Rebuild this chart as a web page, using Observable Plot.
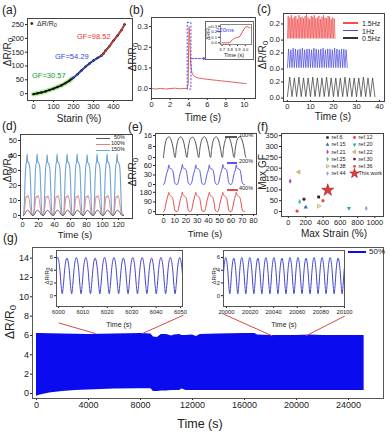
<!DOCTYPE html>
<html><head><meta charset="utf-8">
<script src="https://cdn.jsdelivr.net/npm/d3@7"></script>
<script src="https://cdn.jsdelivr.net/npm/@observablehq/plot@0.6"></script>
<style>
body{margin:0;background:#fff;}
#root{position:relative;width:391px;height:433px;overflow:hidden;font-family:"Liberation Sans",Arial,sans-serif;color:#222;background:#fff}
.t{position:absolute;white-space:nowrap;line-height:1}
svg{overflow:visible}
</style></head><body><div id="root"></div>
<script>
// ---------- DATA ----------
// (a) strain response
const strainA=[0,20,40,60,80,100,120,140,160,180,190,200,220,240,260,280,300,320,340,350,360,380,400,420,440,455];
const drA=[-2,1,4,8,13,18,24,30,38,47,53,58,70,84,97,109,120,129,138,145,155,172,192,210,230,250];
const segBreaks=[190,340];
const gfLabels=["GF=30.57","GF=54.29","GF=98.52"];
// (b) response time
const tB=[0,0.5,1,1.5,2,2.5,3,3.5,3.8,3.95,4.0,4.05,4.1,4.15,4.2,4.3,4.4,4.6,4.8,5,5.5,6,7,8,9,10,10.2];
const vB=[0,-0.002,0.001,-0.002,0,0.002,-0.001,0.001,0,0.02,0.2,0.3,0.27,0.2,0.14,0.09,0.07,0.06,0.055,0.052,0.048,0.045,0.04,0.035,0.03,0.025,0.024];
const winB=[3.9,4.3];
const tBi=[3.70,3.75,3.80,3.82,3.84,3.86,3.88,3.90,3.92,3.94,3.96,3.98,4.00,4.03,4.06];
const vBi=[0,0,0,0.04,0.06,0.08,0.09,0.1,0.1,0.14,0.19,0.24,0.28,0.29,0.27];
// (c) frequency
const freqC=["1.5Hz","1Hz","0.5Hz"];
const phC=[[0,0.333,0.667],[0,0.5,1],[0,1,2]];
const tmplC=[0.02,0.28,0.02];
const peaksC=[
 [0.30,0.28,0.31,0.27,0.29,0.30,0.26,0.31,0.28,0.29,0.27,0.30,0.32,0.28,0.26,0.30,0.29,0.31,0.27,0.28,0.30,0.26,0.29,0.31,0.28,0.27,0.30,0.29,0.26,0.28,0.27],
 [0.25,0.24,0.26,0.25,0.24,0.25,0.26,0.24,0.25,0.25,0.24,0.26,0.25,0.24,0.25,0.26,0.24,0.25,0.25,0.24,0.26,0.25,0.24,0.25,0.25,0.24],
 [0.26,0.25,0.26,0.25,0.25,0.26,0.25,0.25,0.26,0.25,0.25,0.25,0.26,0.25,0.25,0.25,0.26,0.25,0.25]];
// (d) strain levels
const levD=["50%","100%","150%"];
const phD=[[0,2,3.5,4.5,6,7.5,9,10.5,12.5],[0,1.5,2.5,3.5,4.5,5.5,6.5,7.5,8.5,9.5,10.5,12.5],[0,1,2,3,3.8,4.5,5.2,6.5,8,9,10,11,12.5]];
const vD=[[0,1.5,3,3.5,3.2,2.5,1,0.2,0],[0.5,5,10,13,12,13.5,12,9,5,1.5,0.5,0.5],[0,8,25,34,36,41,36,35,31,18,4,0.5,0]];
const peaksD=[[3.5,3.5,3.4,3.5,3.5,3.5,3.4,3.5,3.5,3.5],[13.5,13.5,13.3,13.5,13.5,13.4,13.5,13.5,13.5,13.4],[41,41,40.5,41,41,41,40.5,41,41,41]];
// (e) strain levels
const levE=["100%","200%","400%"];
const phE=[[0,0.8,2,3.5,5,6.5,7.8,9,9.8,10.5],[0,1,2.5,4,4.8,5.3,6.5,8,9,10,11,12],[0,1,2.5,4,4.8,5.3,6.5,8,9,10,11,12]];
const vE=[[0,6,11.5,14.5,15,13.5,10,5,1,0],[0,5,30,48,62,52,50,46,30,5,1,0],[0,15,90,150,180,155,145,130,80,15,3,0]];
const peaksE=[[15,15,14.8,15,15,14.8,15],[62,63,62,62,63,62],[180,182,180,181,180,180]];
// (f) comparison
const refs=["ref.6","ref.12","ref.15","ref.20","ref.21","ref.22","ref.25","ref.30","ref.38","ref.36","ref.44","This work"];
const strainF=[350,100,200,700,20,120,130,180,350,400,900,455];
const gfF=[67,2,20,15,140,182,45,57,25,50,15,98.5];
// (g) durability envelope
const tG=[0,300,1000,2000,3000,4000,6000,8000,8800,9000,9300,9600,10000,10400,10600,11000,11200,11500,12000,12300,12600,14000,16000,16800,17000,18000,20000,21000,22000,25200];
const upG=[6.2,6.2,6.18,6.15,6.12,6.1,6.15,6.2,6.15,5.85,5.8,6.1,6.1,5.95,6.05,6.1,6.0,6.0,6.05,5.9,6.1,6.15,6.2,6.2,6.05,6.0,6.0,6.05,6.0,6.0];
const loG=[-0.3,-0.15,0.05,0.2,0.3,0.35,0.45,0.5,0.5,0.2,0.2,0.25,0.25,0.3,0.3,0.3,0.45,0.3,0.3,0.3,0.3,0.3,0.3,0.3,0.3,0.3,0.3,0.3,0.3,0.3];
const phG1=[0,0.45,0.95,1.45,1.92,2.4,2.9,3.4,3.85];
const phG2=[0,0.8,1.7,2.6,3.4,4.2,5.1,6.0,6.8];
const vG=[0.3,1.6,4.0,5.5,6.0,5.5,4.0,1.6,0.3];
const peaksG1=[6.0,5.9,6.0,6.0,5.9,6.0,6.0,5.9,6.0,6.0,5.9,6.0,6.0,6.0];
const peaksG2=[6.0,5.9,6.0,6.0,5.9,6.0,6.0,5.9,6.0,6.0,5.9,6.0,6.0,6.0,5.9,6.0];
const linksG=[[1700,7.3,4540,6.2],[11300,8.1,8150,6.2],[14400,8.2,18150,5.95],[23700,8.0,20700,5.95]];

// ---------- HELPERS ----------
const F='"Liberation Sans", Arial, Helvetica, sans-serif';
const root=document.getElementById('root');
const RR='ΔR/R<span style="font-size:80%;position:relative;top:0.25em">0</span>';
function put(n,l,t){n.style.position='absolute';n.style.left=l+'px';n.style.top=t+'px';root.appendChild(n);return n;}
function label(html,x,y,o={}){const d=document.createElement('div');d.className='t';d.innerHTML=html;
 d.style.fontSize=(o.size||10)+'px';d.style.color=o.color||'#222';
 const tx=o.anchor==='start'?'0':o.anchor==='end'?'-100%':'-50%';
 d.style.left=x+'px';d.style.top=y+'px';d.style.transform=`translate(${tx},-50%)`+(o.rot?` rotate(${o.rot}deg)`:'');
 if(o.shadow)d.style.textShadow=o.shadow;root.appendChild(d);return d;}
function box(l,t,w,h,c,bg){const d=document.createElement('div');d.style.cssText=`position:absolute;left:${l}px;top:${t}px;width:${w}px;height:${h}px;border:1px solid ${c||'#444'};box-sizing:border-box;`+(bg?`background:${bg};`:'');root.appendChild(d);return d;}
function legLine(x1,x2,y,c,w){const d=document.createElement('div');d.style.cssText=`position:absolute;left:${x1}px;top:${y-(w||1)/2}px;width:${x2-x1}px;height:${w||1}px;background:${c}`;root.appendChild(d);}
function P(o,fs){return Plot.plot({...o,style:{fontFamily:F,fontSize:(fs||7.5)+'px',color:'#222',background:'transparent',overflow:'visible'}});}
function ax(domain,ticks,fmt,hide){const a={domain,label:null,tickSize:2,tickPadding:1.5};if(ticks)a.ticks=ticks;if(fmt)a.tickFormat=fmt;if(hide)a.axis=null;return a;}
function cyc(start,period,ph,v,peaks){const vmax=Math.max(...v),out=[];
 peaks.forEach((pk,c)=>{ph.forEach((p,i)=>{if(c>0&&i===0)return;out.push({t:start+c*period+p,v:v[i]*pk/vmax});});});return out;}
const zip=(a,b)=>a.map((x,i)=>({t:x,v:b[i]}));

// ---------- (a) ----------
const ptsA=strainA.map((s,i)=>({s,v:drA[i]}));
const gA=ptsA.filter(d=>d.s<=segBreaks[0]),bA=ptsA.filter(d=>d.s>=segBreaks[0]&&d.s<=segBreaks[1]),rA=ptsA.filter(d=>d.s>=segBreaks[1]);
put(P({width:140,height:110,marginLeft:27,marginRight:8,marginTop:18,marginBottom:10,
 x:ax([-30,495],[0,100,200,300,400]),y:ax([-25,272],[0,50,100,150,200,250]),
 marks:[Plot.line(gA,{x:'s',y:'v',stroke:'#b8f0a0',strokeWidth:5}),
  Plot.line(ptsA,{x:'s',y:'v',stroke:'#111',strokeWidth:1.8}),
  Plot.dot(ptsA,{x:'s',y:'v',fill:'#111',r:1.2}),
  Plot.line(bA,{x:'s',y:'v',stroke:'#2f45e0',strokeWidth:1.2}),
  Plot.line(rA,{x:'s',y:'v',stroke:'#ec3b3b',strokeWidth:1.2}),
  Plot.frame({stroke:'#444'})]}),0,0);
label('(a)',2,10,{anchor:'start',size:12});
label(RR,8,52,{rot:-90,size:10});
label('Starin (%)',79,119,{size:10});
label('•',30,24,{size:10,anchor:'start'});
label(RR,37,24,{size:7,anchor:'start'});
label(gfLabels[2],77,37,{size:7.5,color:'#e33',anchor:'start'});
label(gfLabels[1],55,57,{size:7.5,color:'#3346d8',anchor:'start'});
label(gfLabels[0],32,76,{size:7.5,color:'#2e9a5a',anchor:'start',shadow:'0 0 2px #c8f5b0'});

// ---------- (b) ----------
const ptsB=zip(tB,vB);
put(P({width:140,height:110,marginLeft:26,marginRight:10,marginTop:17,marginBottom:12,
 x:ax([0,11.2],[0,2,4,6,8,10]),y:ax([-0.048,0.344],[0,0.1,0.2,0.3],'.1f'),
 marks:[Plot.line(ptsB,{x:'t',y:'v',stroke:'#e36060',strokeWidth:1}),
  Plot.rect([winB],{x1:d=>d[0],x2:d=>d[1],y1:-0.005,y2:0.318,fill:'none',stroke:'#3a3ae0',strokeDasharray:'2,1.5',strokeWidth:0.9}),
  Plot.arrow([winB],{x1:d=>d[1],x2:5.8,y1:0.145,y2:0.145,stroke:'#3a3ae0',strokeDasharray:'2,1.5',strokeWidth:0.9,headLength:4}),
  Plot.frame({stroke:'#444'})]}),125,0);
box(205,21,49,39,'#666','#fff');
put(P({width:49,height:32,marginLeft:15,marginRight:3,marginTop:3,marginBottom:9,
 x:ax([3.68,4.08],[3.7,3.8,3.9,4.0],'.1f'),y:ax([-0.03,0.33],[0,0.1,0.2,0.3],'.1f'),
 marks:[Plot.line(zip(tBi,vBi),{x:'t',y:'v',stroke:'#e04040',strokeWidth:0.9}),Plot.frame({stroke:'#888'})]},4.2),205,21);
label('220ms',225,30,{size:6,color:'#3a3ae0'});
label('Time (s)',234,55.5,{size:5.5});
label(RR,208,33,{rot:-90,size:5});
label('(b)',129,10,{anchor:'start',size:12});
label(RR,133,57,{rot:-90,size:10});
label('Time (s)',203,118,{size:10});

// ---------- (c) ----------
const colC=['#f05050','#4848e0','#333'];
const topsC=[13,42,71];
freqC.forEach((f,k)=>{
 const per=phC[k][phC[k].length-1];
 const data=cyc(0,per,phC[k],tmplC,peaksC[k]);
 const last=k===2;
 put(P({width:136,height:29+(last?14:0),marginLeft:28,marginRight:6,marginTop:0,marginBottom:last?14:0,
  x:ax([-1.7,42.6],[0,10,20,30,40],null,!last),y:ax([-0.03,0.33],[0,0.2],'.1f'),
  marks:[Plot.line(data,{x:'t',y:'v',stroke:colC[k],strokeWidth:0.7})]}),255,topsC[k]);
 legLine(343,358,23+k*7.5,colC[k],1.2);
 label(f,362,23+k*7.5,{size:7,anchor:'start'});
});
box(283,13,102,89,'#444');
label('(c)',257,9,{anchor:'start',size:12});
label(RR,263,55,{rot:-90,size:10});
label('Time (s)',333,117,{size:10});

// ---------- (d) ----------
const colD=['#555','#e8807a','#6fa3d8'];
const marksD=levD.map((l,k)=>Plot.line(cyc(1.3,12.5,phD[k],vD[k],peaksD[k]),{x:'t',y:'v',stroke:colD[k],strokeWidth:k===2?1.1:0.9,curve:'monotone-x'}));
put(P({width:135,height:110,marginLeft:20,marginRight:3,marginTop:9,marginBottom:17,
 x:ax([-2.5,137.5],[0,20,40,60,80,100,120]),y:ax([-2,54],[0,10,20,30,40,50]),
 marks:[...marksD.reverse(),Plot.frame({stroke:'#444'})]}),0,125);
levD.forEach((l,k)=>{legLine(96,110,138+k*6.2,colD[k],1);label(l,125,138+k*6.2,{size:5.5,anchor:'end'});});
label('(d)',2,126,{anchor:'start',size:12});
label(RR,8,168,{rot:-90,size:10});
label('Time (s)',75,235,{size:9.5});

// ---------- (e) ----------
const colE=['#555','#5a5ae0','#e05050'];
const topsE=[133,160,187],domE=[[-2.2,17.5],[-9.5,75.8],[-27,225]],ticksE=[[0,8,16],[0,30,60],[0,90,180]];
const perE=[10.5,12,12];
levE.forEach((l,k)=>{
 const last=k===2;
 put(P({width:135,height:27+(last?15:0),marginLeft:30,marginRight:3,marginTop:0,marginBottom:last?15:0,
  x:ax([-7.1,83.6],[0,10,20,30,40,50,60,70,80],null,!last),y:ax(domE[k],ticksE[k]),
  marks:[Plot.line(cyc(0,perE[k],phE[k],vE[k],peaksE[k]),{x:'t',y:'v',stroke:colE[k],strokeWidth:1,curve:'monotone-x'})]}),125,topsE[k]);
});
box(155,133,102,82,'#444');
[[225,237,137],[227,237,163],[227,238,190]].forEach((p,k)=>{legLine(p[0],p[1],p[2],colE[k],1.2);label(levE[k],239,p[2]-1,{size:5.5,anchor:'start'});});
label('(e)',128,127,{anchor:'start',size:12});
label(RR,133,172,{rot:-90,size:10});
label('Time (s)',205,234,{size:9.5});

// ---------- (f) ----------
const colF=['#222','#e8413c','#2f6db5','#3aa89a','#b24cc8','#e2c860','#4cc29b','#5b1f3c','#efe3c0','#e5483f','#86add6','#e03a3a'];
const symF=['square','circle','triangle','triangle','diamond','triangle','diamond','circle','triangle','circle','diamond','star'];
const rotF=[0,0,0,180,0,270,0,0,90,0,0,0];
const dotF=(i,xf,yf,small,big)=>Plot.dot([i],{x:xf,y:yf,symbol:symF[i],fill:colF[i],rotate:rotF[i],r:refs[i]==='This work'?big:small,stroke:refs[i]==='This work'?'#a01818':(i===5||i===8?'#b0a070':'none'),strokeWidth:0.6});
put(P({width:136,height:110,marginLeft:26,marginRight:8,marginTop:8,marginBottom:19,
 x:ax([-80,1100],[0,200,400,600,800,1000],'d'),y:ax([-23,360],[0,50,100,150,200,250,300,350]),
 marks:[...refs.map((r,i)=>dotF(i,i=>strainF[i],i=>gfF[i],1.6,3.8)),Plot.frame({stroke:'#444'})]}),255,125);
put(P({width:66,height:46,margin:0,x:{domain:[0,2],range:[5,59],axis:null},y:{domain:[0,6],range:[4,47.2],axis:null},
 marks:[...refs.map((r,i)=>dotF(i,i=>i%2,i=>Math.floor(i/2),1.4,3)),
  Plot.text(refs,{x:(d,i)=>i%2,y:(d,i)=>Math.floor(i/2),text:d=>d,dx:4,textAnchor:'start',fontSize:5.5,fill:'#222'})]},5.5),322,133);
label('(f)',257,127,{anchor:'start',size:12});
label('Max GF',263,172,{rot:-90,size:10});
label('Max Strain (%)',334,234,{size:10});

// ---------- (g) ----------
const bandG=tG.map((t,i)=>({t,lo:loG[i],up:upG[i]}));
put(P({width:391,height:172,marginLeft:32,marginRight:8,marginTop:7,marginBottom:14,
 x:ax([-308,26690],[0,4000,8000,12000,16000,20000,24000],'d'),y:ax([-0.52,15.1],[0,2,4,6,8,10,12,14]),
 marks:[Plot.areaY(bandG,{x:'t',y1:'lo',y2:'up',fill:'#0b0bef'}),
  Plot.link(linksG,{x1:d=>d[0],y1:d=>d[1],x2:d=>d[2],y2:d=>d[3],stroke:'#d84848',strokeWidth:1}),
  Plot.frame({stroke:'#555'})]},9),0,240);
const insetG=(left,w,xd,xt,data)=>put(P({width:w,height:66,marginLeft:16,marginRight:3,marginTop:0,marginBottom:10,
 x:ax(xd,xt,'d'),y:ax([-1.7,7.1],[0,2,4,6]),
 marks:[Plot.frame({fill:'#fff',stroke:'#555'}),Plot.line(data,{x:'t',y:'v',stroke:'#4444d0',strokeWidth:1,curve:'monotone-x',clip:true})]},5.8),left,250);
insetG(40,145,[5999.2,6050.8],[6000,6010,6020,6030,6040,6050],cyc(5997.7,3.85,phG1,vG,peaksG1));
insetG(207,140,[19997.5,20100],[20000,20020,20040,20060,20080,20100],cyc(19996,6.8,phG2,vG,peaksG2));
label(RR,47,276,{rot:-90,size:6});
label(RR,214,276,{rot:-90,size:6});
label('Time (s)',119,324,{size:7});
label('Time (s)',284,324,{size:7});
legLine(348,366,252,'#0b0bef',1.5);
label('50%',369,252,{size:8,anchor:'start'});
label('(g)',3,238,{anchor:'start',size:12});
label(RR,10,322,{rot:-90,size:12});
label('Time (s)',200,424,{size:12.5});
</script></body></html>
